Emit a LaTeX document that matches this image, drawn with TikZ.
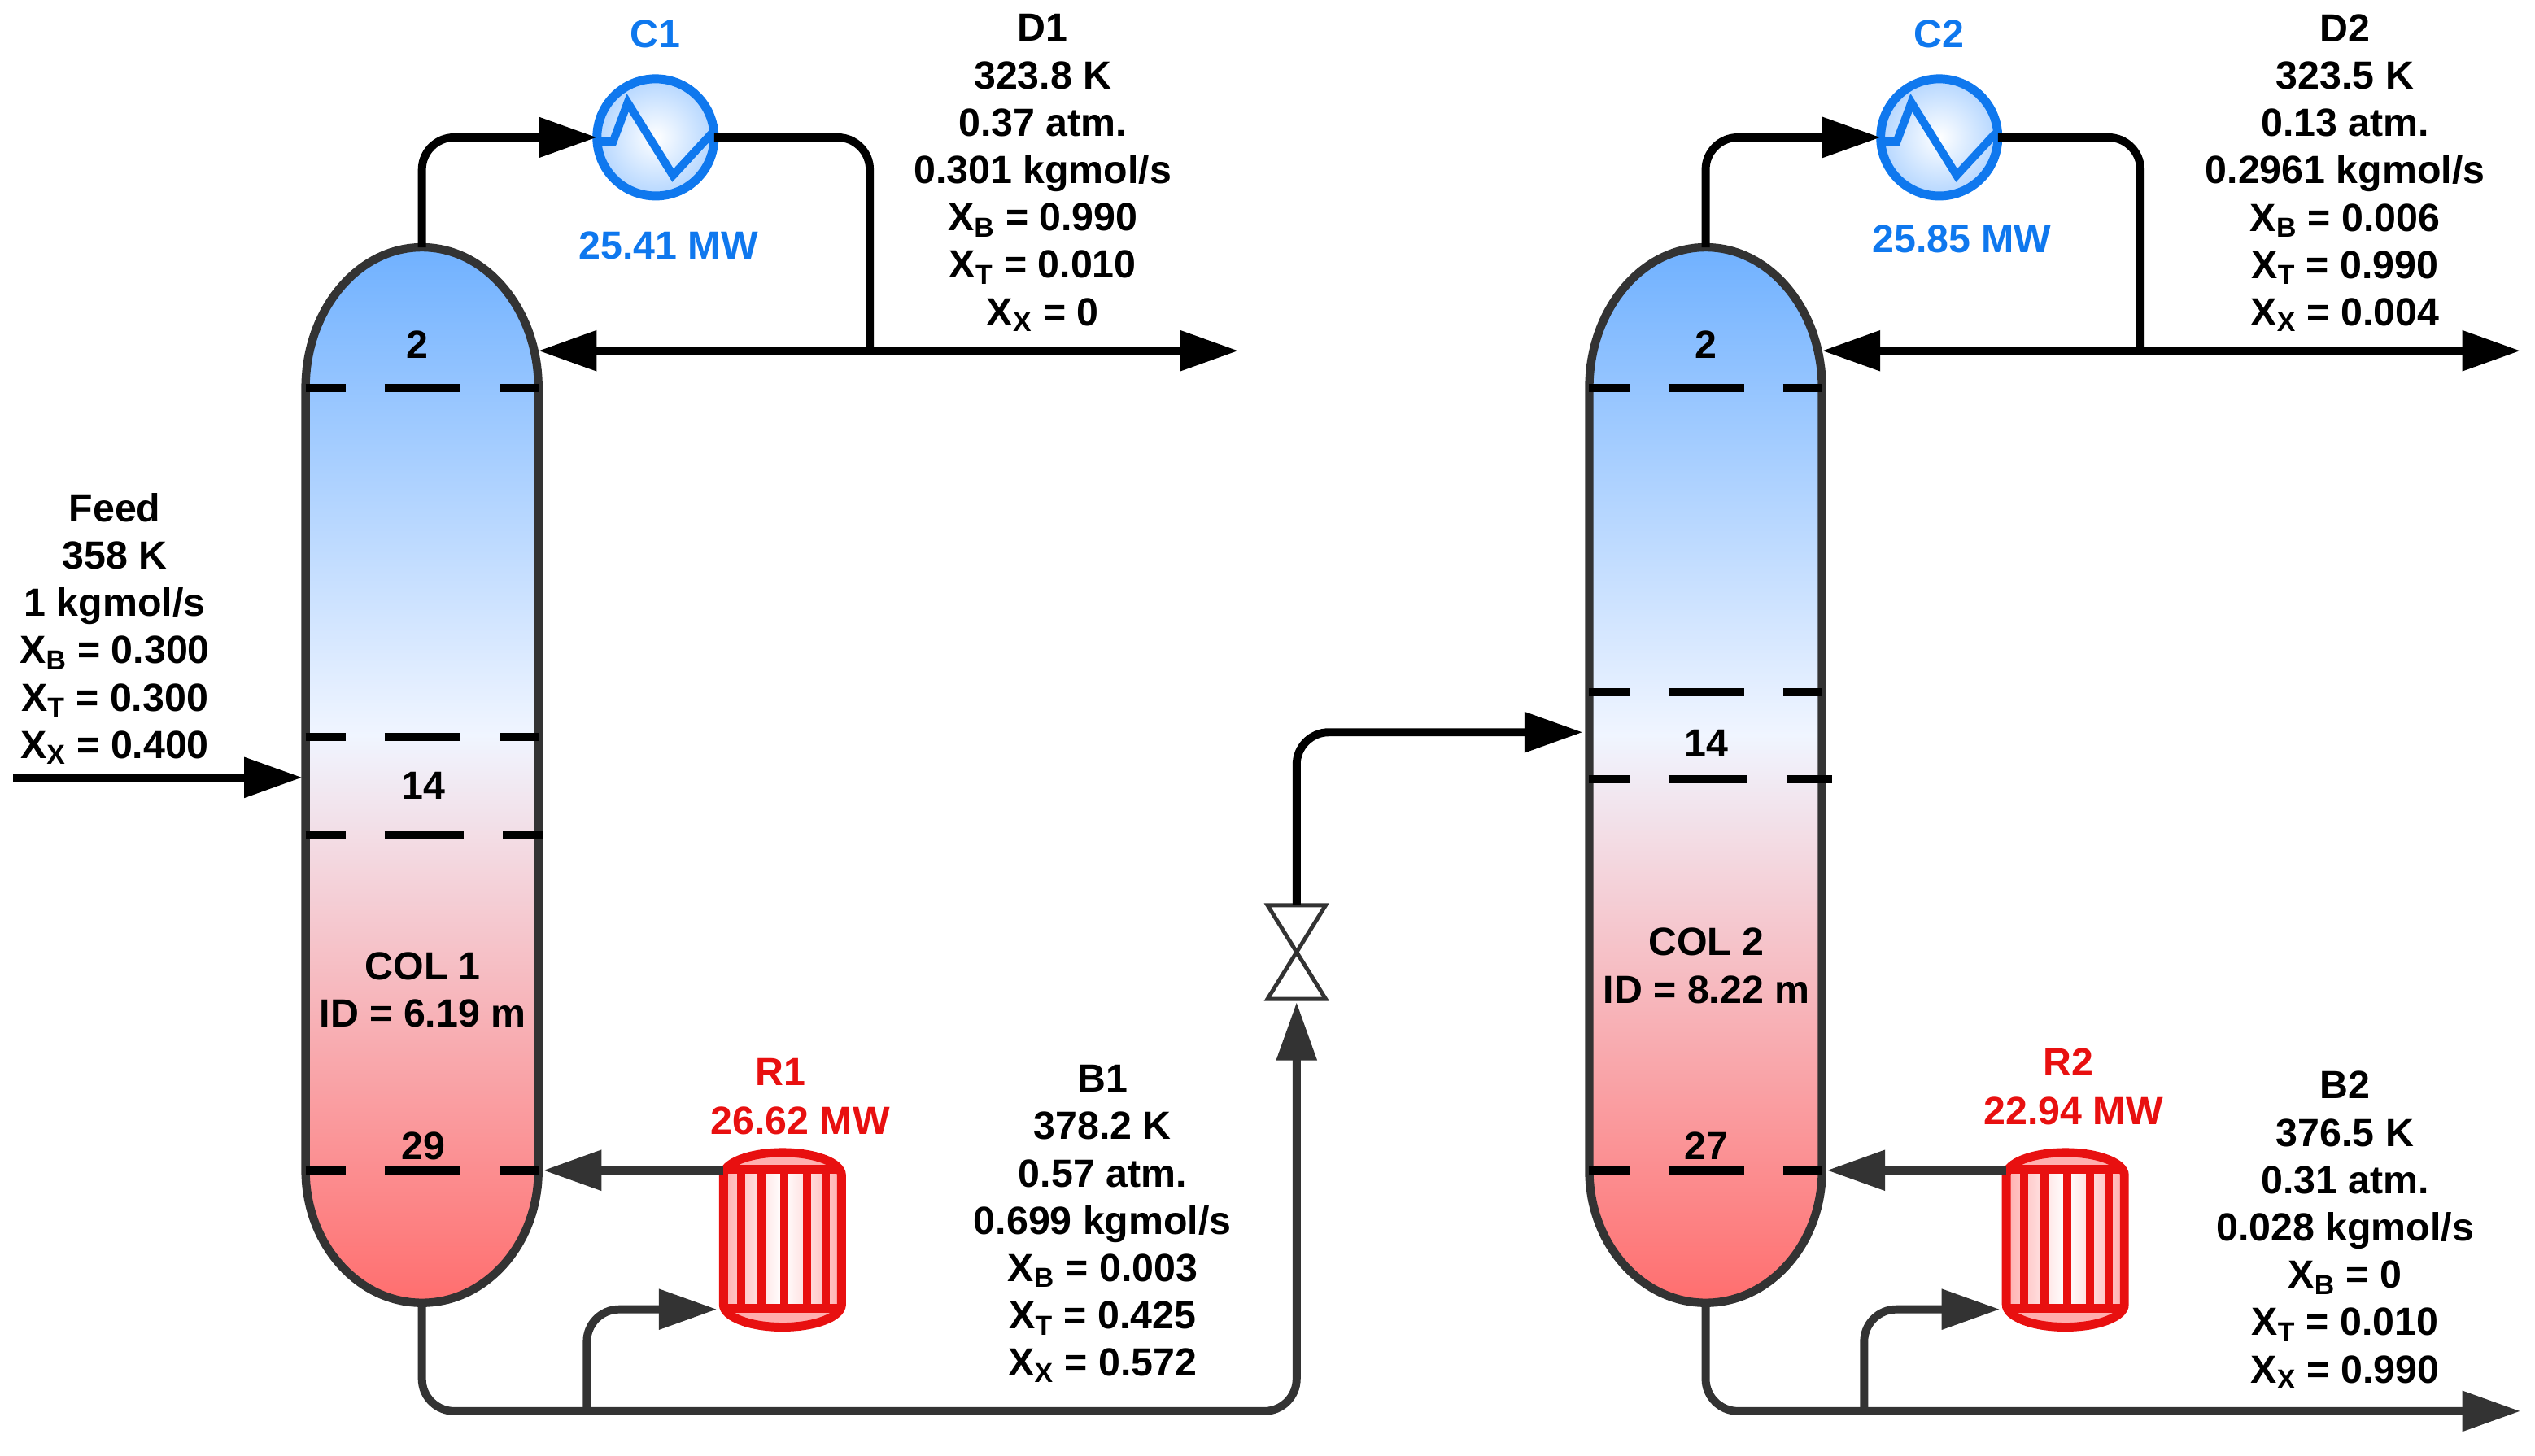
\documentclass[tikz,border=0pt]{standalone}
\usepackage{fontspec}
\setmainfont{Liberation Sans}
\usetikzlibrary{positioning,arrows.meta}
\definecolor{pipegray}{HTML}{333333}
\definecolor{coolblue}{HTML}{0F78EE}
\definecolor{coolfill}{HTML}{B4D6FF}
\definecolor{hotred}{HTML}{E81010}
\definecolor{hotfill}{HTML}{FFAFAF}
\definecolor{coltop}{HTML}{70B1FF}
\definecolor{colmid}{HTML}{F0F5FF}
\definecolor{colbot}{HTML}{FF6E6E}
\pgfdeclareverticalshading{towerfade}{100bp}{color(0bp)=(colbot); color(25bp)=(colbot); color(51.9bp)=(colmid); color(75bp)=(coltop); color(100bp)=(coltop)}
\tikzset{
	pics/tower/.style = {code = {
		\draw[line width=5.2pt, draw=pipegray, shading=towerfade]
			(-72,-239.5) arc[start angle=180, end angle=0, x radius=72pt, y radius=87pt]
			-- (72,244.5) arc[start angle=0, end angle=-180, x radius=72pt, y radius=82pt] -- cycle;
	}},
	pics/reboil/.style = {code = {
		\shade[left color=hotfill, right color=hotfill, middle color=white]
			(-36.5,-40) arc[start angle=180, end angle=0, x radius=36.5pt, y radius=14pt]
			-- (36.5,40) arc[start angle=0, end angle=-180, x radius=36.5pt, y radius=14pt] -- cycle;
		\fill[hotfill] (-36.5,-43.5) arc[start angle=180, end angle=0, x radius=36.5pt, y radius=10.5pt] -- cycle;
		\fill[hotfill] (36.5,42.5) arc[start angle=0, end angle=-180, x radius=36.5pt, y radius=11.5pt] -- cycle;
		\draw[line width=5pt, draw=hotred] (-25.5,-43.5) -- (-25.5,42.5) (-13,-43.5) -- (-13,42.5)
			(1,-43.5) -- (1,42.5) (15,-43.5) -- (15,42.5) (27,-43.5) -- (27,42.5);
		\draw[line width=5.5pt, draw=hotred] (-36.5,-43.5) -- (36.5,-43.5) (-36.5,42.5) -- (36.5,42.5);
		\draw[line width=5.5pt, draw=hotred]
			(-36.5,-40) arc[start angle=180, end angle=0, x radius=36.5pt, y radius=14pt]
			-- (36.5,40) arc[start angle=0, end angle=-180, x radius=36.5pt, y radius=14pt] -- cycle;
	}}
}
\begin{document}
\begin{tikzpicture}[x=1pt, y=-1pt, >={Triangle[length=36pt,width=24pt]},
	anchornode/.style = {inner sep=0, outer sep=0},
	cooler/.style = {circle, draw=coolblue, line width=5.5pt, inner color=white, outer color=coolfill, minimum size=72.5pt, inner sep=0, outer sep=0},
	coil/.style = {draw=coolblue, line width=5pt, line join=miter},
	pipe/.style = {draw=black, line width=5pt, rounded corners=20pt},
	graypipe/.style = {draw=pipegray, line width=5pt, rounded corners=20pt},
	plate/.style = {draw=black, line width=5pt, dash pattern=on 25pt off 24pt on 47pt off 24pt on 30pt},
	platewide/.style = {draw=black, line width=5pt, dash pattern=on 25pt off 24pt on 49pt off 24pt on 32pt},
	valvebody/.style = {draw=pipegray, line width=2.5pt, fill=white},
	info/.style = {inner sep=0, align=center, font=\bfseries\fontsize{24.3}{29.3}\selectfont},
	blueinfo/.style = {info, text=coolblue},
	redinfo/.style = {info, text=hotred}]
	\fill[white] (0,0) rectangle (1568,900.7);
	\useasboundingbox (0,0) rectangle (1568,900.7);
	% columns
	\node[anchornode, minimum width=144pt, minimum height=653pt] (col1) at (261,479.5) {};
	\node[anchornode, minimum width=144pt, minimum height=653pt] (col2) at (1055,479.5) {};
	\pic at (col1) {tower};
	\pic at (col2) {tower};
	\draw[plate] (col1.west |- 0,240) -- (col1.east |- 0,240);
	\draw[plate] (col1.west |- 0,456) -- (col1.east |- 0,456);
	\draw[platewide] (col1.west |- 0,517) -- ([xshift=3pt]col1.east |- 0,517);
	\draw[plate] (col1.west |- 0,724) -- (col1.east |- 0,724);
	\draw[plate] (col2.west |- 0,240) -- (col2.east |- 0,240);
	\draw[plate] (col2.west |- 0,428) -- (col2.east |- 0,428);
	\draw[platewide] (col2.west |- 0,482) -- ([xshift=6pt]col2.east |- 0,482);
	\draw[plate] (col2.west |- 0,724) -- (col2.east |- 0,724);
	\node[info] (c1t2) at (258,213) {2};
	\node[info] (c1t14) at (262,486) {14};
	\node[info] (c1t29) at (262,709) {29};
	\node[info] (c2t2) at (1055,213) {2};
	\node[info] (c2t14) at (1055.5,460) {14};
	\node[info] (c2t27) at (1055.5,709) {27};
	\node[info] (c1name) at (261.5,612.5) {COL 1\\ID = 6.19 m};
	\node[info] (c2name) at (1055.5,597.5) {COL 2\\ID = 8.22 m};
	% condensers
	\node[cooler] (C1) at (405.5,85) {};
	\node[cooler] (C2) at (1199.5,85) {};
	\draw[coil] ([yshift=-2.5pt]C1.west) -- ++(10,0) -- ++(9,-24) -- ++(28,45) -- ++(24,-26);
	\draw[coil] ([yshift=-2.5pt]C2.west) -- ++(10,0) -- ++(9,-24) -- ++(28,45) -- ++(24,-26);
	\node[blueinfo, above=18.8pt of C1] (C1name) {C1};
	\node[blueinfo, below=21.8pt of C1, xshift=8pt] (C1duty) {25.41 MW};
	\node[blueinfo, above=18.8pt of C2] (C2name) {C2};
	\node[blueinfo, below=18pt of C2, xshift=14pt] (C2duty) {25.85 MW};
	% reboilers
	\node[anchornode, minimum width=73pt, minimum height=108pt] (R1) at (484,767) {};
	\node[anchornode, minimum width=73pt, minimum height=108pt] (R2) at (1277.5,767) {};
	\pic at (R1) {reboil};
	\pic at (R2) {reboil};
	\node[redinfo, above=11pt of R1, xshift=11pt] (R1duty) {26.62 MW};
	\node[redinfo, above=12.6pt of R1duty, xshift=-12pt] (R1name) {R1};
	\node[redinfo, above=17pt of R2, xshift=5pt] (R2duty) {22.94 MW};
	\node[redinfo, above=12.6pt of R2duty, xshift=-3pt] (R2name) {R2};
	% valve
	\node[anchornode, minimum width=36pt, minimum height=58pt] (V1) at (802,589) {};
	\draw[valvebody] (V1.north west) -- (V1.north east) -- (V1.south west) -- (V1.south east) -- cycle;
	% stream data
	\node[info] (feedtext) at (71,389) {Feed\\358 K\\1 kgmol/s\\X\textsubscript{B} = 0.300\\X\textsubscript{T} = 0.300\\X\textsubscript{X} = 0.400};
	\node[info] (d1text) at (645,107) {D1\\323.8 K\\0.37 atm.\\0.301 kgmol/s\\X\textsubscript{B} = 0.990\\X\textsubscript{T} = 0.010\\X\textsubscript{X} = 0};
	\node[info] (b1text) at (682,757) {B1\\378.2 K\\0.57 atm.\\0.699 kgmol/s\\X\textsubscript{B} = 0.003\\X\textsubscript{T} = 0.425\\X\textsubscript{X} = 0.572};
	\node[info] (d2text) at (1450.5,107) {D2\\323.5 K\\0.13 atm.\\0.2961 kgmol/s\\X\textsubscript{B} = 0.006\\X\textsubscript{T} = 0.990\\X\textsubscript{X} = 0.004};
	\node[info] (b2text) at (1450.5,761) {B2\\376.5 K\\0.31 atm.\\0.028 kgmol/s\\X\textsubscript{B} = 0\\X\textsubscript{T} = 0.010\\X\textsubscript{X} = 0.990};
	% free ends of the streams
	\coordinate (feedin) at (8,481);
	\coordinate (d1out) at (766,217);
	\coordinate (d1tee) at (538,217);
	\coordinate (d2out) at (1559,217);
	\coordinate (d2tee) at (1324,217);
	\coordinate (b1tee) at (363,873);
	\coordinate (b1turn) at (802,873);
	\coordinate (b2tee) at (1153,873);
	\coordinate (b2out) at (1559,873);
	\coordinate (col2in) at (979,453);
	\coordinate (boil) at (0,724);
	\coordinate (boilin) at (0,810);
	% pipes
	\draw[pipe,->,shorten >=2pt] (feedin) -- (col1.west |- feedin);
	\draw[pipe,->] (col1.north) |- (C1.west);
	\draw[pipe] (C1.east) -| (d1tee);
	\draw[pipe,<->] (col1.east |- d1tee) -- (d1out);
	\draw[pipe,->] (col2.north) |- (C2.west);
	\draw[pipe] (C2.east) -| (d2tee);
	\draw[pipe,<->] (col2.east |- d2tee) -- (d2out);
	\draw[graypipe,->,shorten >=3pt] (R1.west |- boil) -- (col1.east |- boil);
	\draw[graypipe,->,shorten >=3pt] (R2.west |- boil) -- (col2.east |- boil);
	\draw[graypipe,->,shorten >=4pt] (b1tee) |- (R1.west |- boilin);
	\draw[graypipe,->,shorten >=4pt] (b2tee) |- (R2.west |- boilin);
	\draw[graypipe,->,shorten >=2pt] (col1.south) |- (b1turn) -- (V1.south);
	\draw[graypipe,->] (col2.south) |- (b2out);
	\draw[pipe,->] (V1.north) |- (col2in);
\end{tikzpicture}
\end{document}
